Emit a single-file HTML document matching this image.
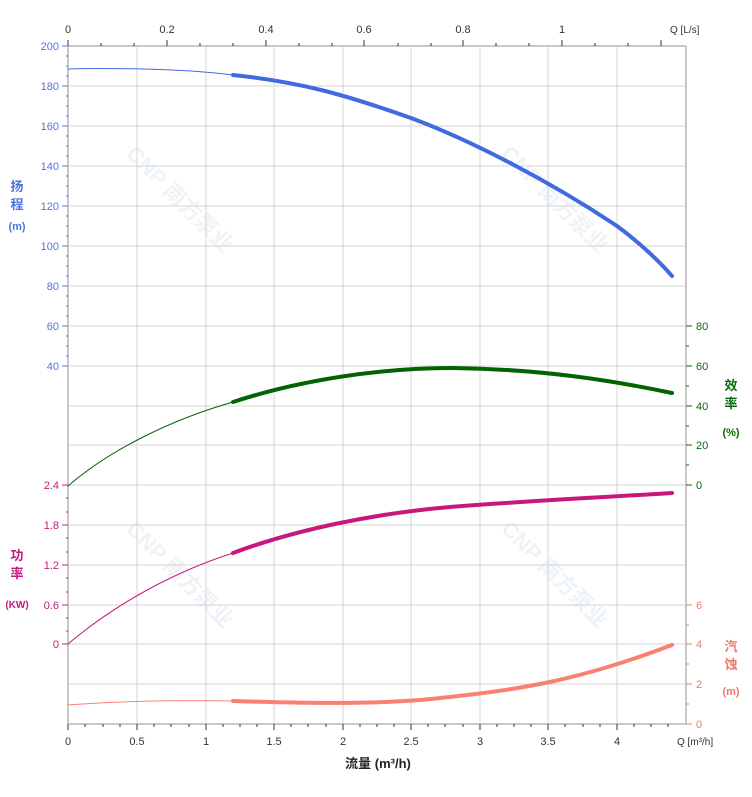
<!DOCTYPE html>
<html><head><meta charset="utf-8"><style>
body{margin:0;background:#fff;}
svg{display:block;font-family:"Liberation Sans","Noto Sans CJK SC",sans-serif;}
</style></head><body>
<svg width="752" height="797" viewBox="0 0 752 797" xmlns="http://www.w3.org/2000/svg">
<rect width="752" height="797" fill="#fff"/>
<g fill="#eef3f8" font-size="22" font-weight="bold">
<text transform="translate(125,155) rotate(45)">CNP 南方泵业</text>
<text transform="translate(500,155) rotate(45)">CNP 南方泵业</text>
<text transform="translate(125,530) rotate(45)">CNP 南方泵业</text>
<text transform="translate(500,530) rotate(45)">CNP 南方泵业</text>
</g>
<g stroke="#d4d4d4" stroke-width="1">
<line x1="68" y1="86" x2="686" y2="86"/><line x1="68" y1="126" x2="686" y2="126"/><line x1="68" y1="166" x2="686" y2="166"/><line x1="68" y1="206" x2="686" y2="206"/><line x1="68" y1="246" x2="686" y2="246"/><line x1="68" y1="286" x2="686" y2="286"/><line x1="68" y1="326" x2="686" y2="326"/><line x1="68" y1="366" x2="686" y2="366"/><line x1="68" y1="406" x2="686" y2="406"/><line x1="68" y1="445" x2="686" y2="445"/><line x1="68" y1="485" x2="686" y2="485"/><line x1="68" y1="525" x2="686" y2="525"/><line x1="68" y1="565" x2="686" y2="565"/><line x1="68" y1="605" x2="686" y2="605"/><line x1="68" y1="644" x2="686" y2="644"/><line x1="68" y1="684" x2="686" y2="684"/>
<line x1="137" y1="46" x2="137" y2="724"/><line x1="206" y1="46" x2="206" y2="724"/><line x1="274" y1="46" x2="274" y2="724"/><line x1="343" y1="46" x2="343" y2="724"/><line x1="411" y1="46" x2="411" y2="724"/><line x1="480" y1="46" x2="480" y2="724"/><line x1="548" y1="46" x2="548" y2="724"/><line x1="617" y1="46" x2="617" y2="724"/>
</g>
<g stroke="#c8c8c8" stroke-width="2" fill="none">
<line x1="68" y1="46" x2="686" y2="46"/><line x1="68" y1="724" x2="686" y2="724"/>
<line x1="68" y1="46" x2="68" y2="724"/><line x1="686" y1="46" x2="686" y2="724"/>
</g>
<g stroke="#333" stroke-width="1">
<path d="M68 724v6M137 724v6M206 724v6M274 724v6M343 724v6M411 724v6M480 724v6M548 724v6M617 724v6"/>
<path d="M85 724v3M103 724v3M120 724v3M154 724v3M171 724v3M189 724v3M223 724v3M240 724v3M257 724v3M291 724v3M308 724v3M326 724v3M360 724v3M377 724v3M394 724v3M428 724v3M445 724v3M463 724v3M497 724v3M514 724v3M531 724v3M565 724v3M583 724v3M600 724v3M634 724v3M651 724v3M668 724v3"/>
<path d="M68 46v-6M167 46v-6M266 46v-6M364 46v-6M463 46v-6M562 46v-6M661 46v-6"/>
<path d="M101 46v-3M134 46v-3M200 46v-3M233 46v-3M299 46v-3M332 46v-3M398 46v-3M431 46v-3M496 46v-3M529 46v-3M595 46v-3M628 46v-3"/>
</g>
<g stroke="#4a74e0" stroke-width="1">
<path d="M62 46h6M62 86h6M62 126h6M62 166h6M62 206h6M62 246h6M62 286h6M62 326h6M62 366h6"/>
<path d="M66 56h2M66 66h2M66 76h2M66 96h2M66 106h2M66 116h2M66 136h2M66 146h2M66 156h2M66 176h2M66 186h2M66 196h2M66 216h2M66 226h2M66 236h2M66 256h2M66 266h2M66 276h2M66 296h2M66 306h2M66 316h2M66 336h2M66 346h2M66 356h2"/>
</g>
<g stroke="#c8187e" stroke-width="1">
<path d="M62 485h6M62 525h6M62 565h6M62 605h6M62 644h6"/>
<path d="M66 498h2M66 512h2M66 538h2M66 552h2M66 578h2M66 592h2M66 618h2M66 631h2"/>
</g>
<g stroke="#0a6a0a" stroke-width="1">
<path d="M686 326h6M686 366h6M686 406h6M686 445h6M686 485h6M686 346h3M686 386h3M686 426h3M686 465h3"/>
</g>
<g stroke="#f07a6a" stroke-width="1">
<path d="M686 605h6M686 644h6M686 684h6M686 724h6M686 625h3M686 664h3M686 704h3"/>
</g>
<g font-size="11" fill="#4a74e0" text-anchor="end">
<text x="59" y="50">200</text><text x="59" y="90">180</text><text x="59" y="130">160</text><text x="59" y="170">140</text><text x="59" y="210">120</text><text x="59" y="250">100</text><text x="59" y="290">80</text><text x="59" y="330">60</text><text x="59" y="370">40</text>
</g>
<g font-size="11" fill="#c8187e" text-anchor="end">
<text x="59" y="489">2.4</text><text x="59" y="529">1.8</text><text x="59" y="569">1.2</text><text x="59" y="609">0.6</text><text x="59" y="648">0</text>
</g>
<g font-size="11" fill="#0a6a0a">
<text x="696" y="330">80</text><text x="696" y="370">60</text><text x="696" y="410">40</text><text x="696" y="449">20</text><text x="696" y="489">0</text>
</g>
<g font-size="11" fill="#f07a6a">
<text x="696" y="609">6</text><text x="696" y="648">4</text><text x="696" y="688">2</text><text x="696" y="728">0</text>
</g>
<g font-size="11" fill="#333" text-anchor="middle">
<text x="68" y="745">0</text><text x="137" y="745">0.5</text><text x="206" y="745">1</text><text x="274" y="745">1.5</text><text x="343" y="745">2</text><text x="411" y="745">2.5</text><text x="480" y="745">3</text><text x="548" y="745">3.5</text><text x="617" y="745">4</text>
<text x="68" y="33">0</text><text x="167" y="33">0.2</text><text x="266" y="33">0.4</text><text x="364" y="33">0.6</text><text x="463" y="33">0.8</text><text x="562" y="33">1</text>
</g>
<text x="677" y="745" font-size="10" fill="#333">Q [m³/h]</text>
<text x="670" y="33" font-size="10" fill="#333">Q [L/s]</text>
<text x="378" y="768" font-size="13" font-weight="bold" fill="#222" text-anchor="middle">流量 (m³/h)</text>
<g font-size="13" font-weight="bold" text-anchor="middle">
<text x="17" y="191" fill="#4a74e0">扬</text><text x="17" y="209" fill="#4a74e0">程</text><text x="17" y="230" fill="#4a74e0" font-size="11">(m)</text>
<text x="17" y="560" fill="#c8187e">功</text><text x="17" y="578" fill="#c8187e">率</text><text x="17" y="608" fill="#c8187e" font-size="10">(KW)</text>
<text x="731" y="390" fill="#0a6a0a">效</text><text x="731" y="408" fill="#0a6a0a">率</text><text x="731" y="436" fill="#0a6a0a" font-size="11">(%)</text>
<text x="731" y="651" fill="#f07a6a">汽</text><text x="731" y="669" fill="#f07a6a">蚀</text><text x="731" y="695" fill="#f07a6a" font-size="11">(m)</text>
</g>
<g fill="none" stroke-linecap="round" stroke-linejoin="round">
<path d="M68 69 C100 68 180 68 233 75" stroke="#4169e1" stroke-width="1"/>
<path d="M233 75 C300 82 343 94 411 118 C470 140 548 180 617 226 C640 243 660 262 672 276" stroke="#4169e1" stroke-width="4"/>
<path d="M68 486 C110 450 170 420 233 402" stroke="#006400" stroke-width="1"/>
<path d="M233 402 C300 380 380 368 452 368 C540 369 610 380 672 393" stroke="#006400" stroke-width="4"/>
<path d="M68 644 C120 600 180 570 233 553" stroke="#c8187e" stroke-width="1"/>
<path d="M233 553 C300 528 380 513 450 507 C540 500 610 497 672 493" stroke="#c8187e" stroke-width="4"/>
<path d="M68 705 C120 701 180 700 233 701" stroke="#fa8072" stroke-width="1"/>
<path d="M233 701 C300 703 380 705 440 698 C520 690 580 680 672 645" stroke="#fa8072" stroke-width="4"/>
</g>
</svg>
</body></html>
